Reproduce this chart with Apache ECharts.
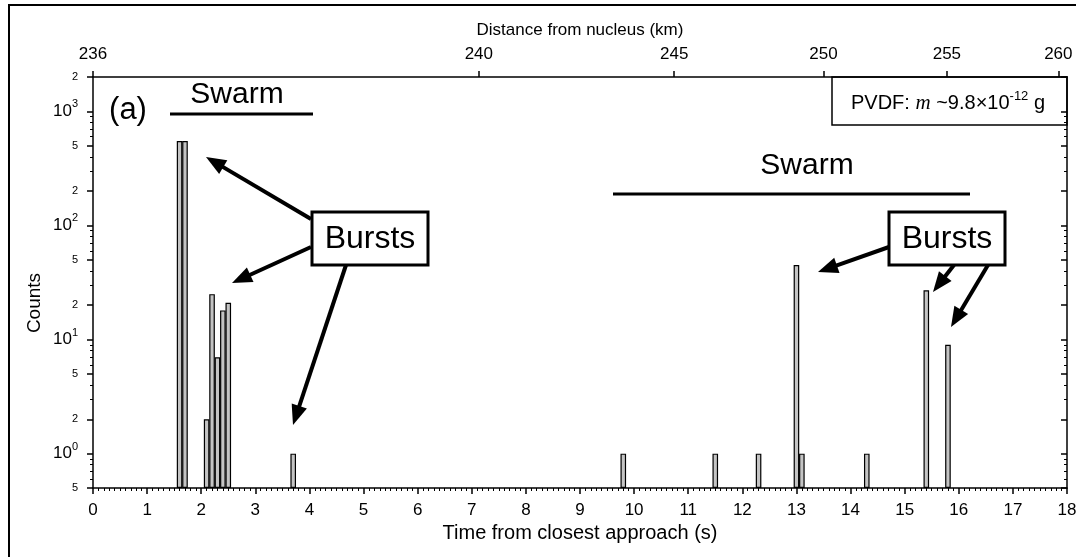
<!DOCTYPE html>
<html>
<head>
<meta charset="utf-8">
<script src="https://cdn.jsdelivr.net/npm/echarts@6/dist/echarts.min.js"></script>
<style>
  html, body { margin: 0; padding: 0; background: #fff; }
  #chartDiv { width: 1076px; height: 557px; }
</style>
</head>
<body>
<div id="chartDiv"></div>
<script>
// bin centres (s) and counts
const times = [1.6, 1.7, 2.1, 2.2, 2.3, 2.4, 2.5, 3.7, 9.8, 11.5, 12.3, 13.0, 13.1, 14.3, 15.4, 15.8];
const counts = [550, 550, 2, 25, 7, 18, 21, 1, 1, 1, 1, 45, 1, 1, 27, 9];

// log y ticks
const yMajorTicks = [0.5, 1, 2, 5, 10, 20, 50, 100, 200, 500, 1000, 2000];
const yMinorTicks = [0.6, 0.7, 0.8, 0.9, 3, 4, 6, 7, 8, 9, 30, 40, 60, 70, 80, 90,
	300, 400, 600, 700, 800, 900];

// top axis: distance from nucleus, placed at the times
const topTickKm = [236, 240, 245, 250, 255, 260];
const topTickTimes = [0, 7.13, 10.74, 13.5, 15.78, 17.84];

const FONT = '"Liberation Sans", Arial, Helvetica, sans-serif';
const yLogMin = Math.log10(0.5);
const yLogMax = Math.log10(2000);

arrow = (x1, y1, x2, y2) => {
	let dx = x2 - x1, dy = y2 - y1;
	let len = Math.hypot(dx, dy);
	let ux = dx / len, uy = dy / len;
	let hl = 20, hw = 8;
	let bx = x2 - ux * hl, by = y2 - uy * hl;
	return [{
		type: 'line',
		shape: { x1: x1, y1: y1, x2: bx + ux * 3, y2: by + uy * 3 },
		style: { stroke: '#000', lineWidth: 4 }
	}, {
		type: 'polygon',
		shape: { points: [[x2, y2], [bx - uy * hw, by + ux * hw], [bx + uy * hw, by - ux * hw]] },
		style: { fill: '#000' }
	}];
}

burstBox = (x, y) => ({
	type: 'group',
	children: [{
		type: 'rect',
		shape: { x: x, y: y, width: 116, height: 53 },
		style: { fill: '#fff', stroke: '#000', lineWidth: 3 }
	}, {
		type: 'text',
		x: x + 58,
		y: y + 27,
		style: { text: 'Bursts', font: '32px ' + FONT, fill: '#000', align: 'center', verticalAlign: 'middle' }
	}]
});

yLabel = (v) => {
	let n = Math.round(v);
	if (Math.abs(v - n) < 1e-6) {
		return '{b|10}{sup|' + n + '}';
	}
	let e = Math.floor(v);
	let d = Math.round(Math.pow(10, v - e));
	return '{s|' + d + '}';
}

chartInit = () => {
	let chart = echarts.init(document.getElementById('chartDiv'));

	let graphics = [{
		type: 'rect',
		shape: { x: 9, y: 5, width: 1120, height: 620 },
		style: { fill: 'none', stroke: '#000', lineWidth: 2 }
	}, {
		type: 'text',
		x: 35,
		y: 303,
		rotation: Math.PI / 2,
		style: { text: 'Counts', font: '19px ' + FONT, fill: '#000', align: 'center', verticalAlign: 'middle' }
	}, {
		type: 'text',
		x: 128,
		y: 110,
		style: { text: '(a)', font: '31px ' + FONT, fill: '#000', align: 'center', verticalAlign: 'middle' }
	}, {
		type: 'text',
		x: 237,
		y: 95,
		style: { text: 'Swarm', font: '30px ' + FONT, fill: '#000', align: 'center', verticalAlign: 'middle' }
	}, {
		type: 'line',
		shape: { x1: 170, y1: 114, x2: 313, y2: 114 },
		style: { stroke: '#000', lineWidth: 3 }
	}, {
		type: 'text',
		x: 807,
		y: 166,
		style: { text: 'Swarm', font: '30px ' + FONT, fill: '#000', align: 'center', verticalAlign: 'middle' }
	}, {
		type: 'line',
		shape: { x1: 613, y1: 194, x2: 970, y2: 194 },
		style: { stroke: '#000', lineWidth: 3 }
	}];

	graphics = graphics.concat(
		arrow(311, 219, 206, 157),
		arrow(311, 247, 232, 283),
		arrow(346, 265, 293, 425),
		arrow(889, 247, 818, 272),
		arrow(954, 265, 933, 292),
		arrow(988, 265, 951, 327)
	);

	graphics.push(burstBox(312, 212), burstBox(889, 212), {
		type: 'rect',
		shape: { x: 832, y: 77, width: 235, height: 48 },
		style: { fill: '#fff', stroke: '#000', lineWidth: 1.5 }
	}, {
		type: 'text',
		x: 948,
		y: 103,
		style: {
			text: '{r|PVDF: }{i|m}{r| ~9.8×10}{sup|-12}{r| g}',
			align: 'center',
			verticalAlign: 'middle',
			rich: {
				r: { font: '20px ' + FONT, fill: '#000', lineHeight: 22 },
				i: { font: 'italic 21px "Liberation Serif", "Times New Roman", serif', fill: '#000', lineHeight: 22 },
				sup: { font: '13px ' + FONT, fill: '#000', lineHeight: 13, padding: [0, 0, 14, 0] }
			}
		}
	});

	let valAxisBase = {
		type: 'value',
		min: yLogMin,
		max: yLogMax,
		axisLine: { show: false },
		splitLine: { show: false }
	};

	let option = {
		backgroundColor: '#fff',
		animation: false,
		grid: {
			left: 93,
			top: 77,
			width: 974,
			height: 411,
			containLabel: false,
			outerBoundsMode: 'none'
		},
		xAxis: [{
			type: 'value',
			position: 'bottom',
			min: 0,
			max: 18,
			interval: 1,
			name: 'Time from closest approach (s)',
			nameLocation: 'middle',
			nameGap: 31,
			nameTextStyle: { color: '#000', fontSize: 20, fontFamily: FONT },
			axisLine: { show: true, onZero: false, lineStyle: { color: '#000', width: 1.5 } },
			axisTick: { show: true, length: 6, lineStyle: { color: '#000', width: 1.5 } },
			minorTick: { show: true, splitNumber: 10, length: 3, lineStyle: { color: '#000', width: 1 } },
			axisLabel: { color: '#000', fontSize: 17, fontFamily: FONT, margin: 14 },
			splitLine: { show: false }
		}, {
			type: 'value',
			position: 'top',
			min: 0,
			max: 18,
			name: 'Distance from nucleus (km)',
			nameLocation: 'middle',
			nameGap: 38,
			nameTextStyle: { color: '#000', fontSize: 17, fontFamily: FONT },
			axisLine: { show: true, onZero: false, lineStyle: { color: '#000', width: 1.5 } },
			axisTick: { show: true, length: 6, customValues: topTickTimes, lineStyle: { color: '#000', width: 1.5 } },
			axisLabel: {
				color: '#000',
				fontSize: 17,
				fontFamily: FONT,
				margin: 14,
				customValues: topTickTimes,
				formatter: function(v) {
					let i = topTickTimes.findIndex(t => Math.abs(t - v) < 1e-6);
					return i >= 0 ? String(topTickKm[i]) : '';
				}
			},
			splitLine: { show: false }
		}],
		yAxis: [{
			// log axis that carries the bars
			type: 'log',
			logBase: 10,
			min: 0.5,
			max: 2000,
			startValue: 0.5,
			position: 'left',
			axisLine: { show: true, onZero: false, lineStyle: { color: '#000', width: 1.5 } },
			axisTick: { show: false },
			axisLabel: { show: false },
			splitLine: { show: false }
		}, Object.assign({}, valAxisBase, {
			position: 'left',
			axisTick: { show: true, length: 6, customValues: yMajorTicks.map(Math.log10), lineStyle: { color: '#000', width: 1.5 } },
			axisLabel: {
				show: true,
				margin: 15,
				customValues: yMajorTicks.map(Math.log10),
				formatter: yLabel,
				rich: {
					b: { fontSize: 17, fontFamily: FONT, color: '#000', lineHeight: 20 },
					sup: { fontSize: 11, fontFamily: FONT, color: '#000', lineHeight: 11, padding: [0, 0, 14, 0] },
					s: { fontSize: 11, fontFamily: FONT, color: '#000' }
				}
			}
		}), Object.assign({}, valAxisBase, {
			position: 'left',
			axisTick: { show: true, length: 3, customValues: yMinorTicks.map(Math.log10), lineStyle: { color: '#000', width: 1 } },
			axisLabel: { show: false }
		}), Object.assign({}, valAxisBase, {
			position: 'right',
			axisLine: { show: true, onZero: false, lineStyle: { color: '#000', width: 1.5 } },
			axisTick: { show: true, inside: true, length: 6, customValues: yMajorTicks.map(Math.log10), lineStyle: { color: '#000', width: 1.5 } },
			axisLabel: { show: false }
		}), Object.assign({}, valAxisBase, {
			position: 'right',
			axisTick: { show: true, inside: true, length: 3, customValues: yMinorTicks.map(Math.log10), lineStyle: { color: '#000', width: 1 } },
			axisLabel: { show: false }
		})],
		series: [{
			name: 'Counts',
			type: 'bar',
			xAxisIndex: 0,
			yAxisIndex: 0,
			barWidth: 5.6,
			itemStyle: {
				color: '#c4c4c4',
				borderColor: '#000',
				borderWidth: 1.2
			},
			data: times.map((t, i) => [t, counts[i]])
		}],
		graphic: graphics
	};
	chart.setOption(option);
}

chartInit();
</script>
</body>
</html>
